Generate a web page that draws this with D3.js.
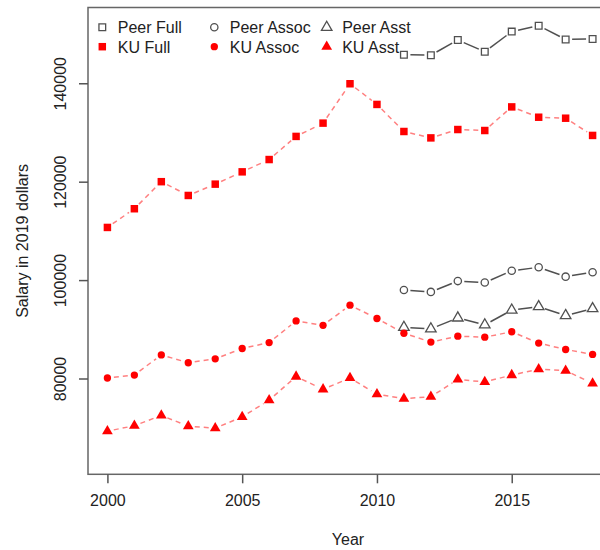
<!DOCTYPE html>
<html>
<head>
<meta charset="utf-8">
<script src="https://cdn.jsdelivr.net/npm/d3@7"></script>
<style>
  body { margin: 0; background: white; }
  svg { display: block; font-family: "Liberation Sans", Arial, sans-serif; }
</style>
</head>
<body>
<svg id="canvas"></svg>
<script>
const years = [2000, 2001, 2002, 2003, 2004, 2005, 2006, 2007, 2008, 2009,
    2010, 2011, 2012, 2013, 2014, 2015, 2016, 2017, 2018];
const peerYears = [2011, 2012, 2013, 2014, 2015, 2016, 2017, 2018];

const kuFull = [110700, 114500, 120000, 117200, 119500, 122000, 124500, 129200, 131900, 139900,
    135700, 130200, 128900, 130600, 130400, 135200, 133100, 132900, 129400];
const kuAssoc = [80100, 80700, 84800, 83200, 84000, 86100, 87300, 91700, 90800, 94900,
    92200, 89200, 87400, 88600, 88400, 89500, 87200, 85900, 84900];
const kuAsst = [69300, 70400, 72500, 70300, 69900, 72200, 75600, 80400, 77800, 80100,
    76800, 75900, 76300, 79800, 79300, 80700, 81900, 81600, 79000];
const peerFull = [145800, 145700, 148800, 146400, 150500, 151700, 148900, 149000];
const peerAssoc = [98000, 97600, 99800, 99500, 101900, 102600, 100700, 101600];
const peerAsst = [90400, 90100, 92300, 90900, 93900, 94600, 92800, 94200];

const xTicks = [2000, 2005, 2010, 2015];
const yTicks = [80000, 100000, 120000, 140000];
const legendLabels = ["Peer Full", "Peer Assoc", "Peer Asst", "KU Full", "KU Assoc", "KU Asst"];

const width = 600;
const height = 550;
const box = { left: 88, right: 612, top: 7.5, bottom: 474.3 };
const red = "#ff0000";
const pink = "#ff8080";
const grey = "#505050";

const svg = d3.select("#canvas")
    .attr("width", width)
    .attr("height", height);

const xScale = d3.scaleLinear()
    .domain([1999.28, 2018.72])
    .range([box.left, box.right]);

const yScale = d3.scaleLinear()
    .domain([60530, 155400])
    .range([box.bottom, box.top]);

// plot box
svg.append("rect")
    .attr("x", box.left)
    .attr("y", box.top)
    .attr("width", box.right - box.left)
    .attr("height", box.bottom - box.top)
    .attr("fill", "none")
    .attr("stroke", "#666")
    .attr("stroke-width", 1.5);

const xAxis = d3.axisBottom(xScale).tickValues(xTicks).tickFormat(d3.format("d")).tickSize(9);
const yAxis = d3.axisLeft(yScale).tickValues(yTicks).tickFormat(d3.format("d")).tickSize(9);

const gx = svg.append("g")
    .attr("transform", "translate(0," + box.bottom + ")")
    .call(xAxis);
gx.select(".domain").remove();
gx.selectAll("line").attr("stroke", "#555").attr("stroke-width", 1.5);
gx.selectAll("text")
    .attr("fill", "#222")
    .style("font-size", "16px")
    .attr("dy", "0.71em")
    .attr("y", 20);

const gy = svg.append("g")
    .attr("transform", "translate(" + box.left + ",0)")
    .call(yAxis);
gy.select(".domain").remove();
gy.selectAll("line").attr("stroke", "#555").attr("stroke-width", 1.5);
// tick groups are already moved to their y, so only shift left and turn
gy.selectAll("text")
    .attr("fill", "#222")
    .style("font-size", "16px")
    .attr("x", 0)
    .attr("dy", null)
    .attr("text-anchor", "middle")
    .attr("transform", "translate(" + (66 - box.left) + ",0) rotate(-90)");

svg.append("text")
    .attr("x", (box.left + 598) / 2 + 5)
    .attr("y", 545)
    .attr("text-anchor", "middle")
    .style("font-size", "16px")
    .attr("fill", "#222")
    .text("Year");

svg.append("text")
    .attr("transform", "translate(28," + (box.top + box.bottom) / 2 + ") rotate(-90)")
    .attr("text-anchor", "middle")
    .style("font-size", "16px")
    .attr("fill", "#222")
    .text("Salary in 2019 dollars");

const series = [
    { xs: peerYears, ys: peerFull, shape: d3.symbolSquare, size: 45, filled: false, color: grey, line: grey, dash: null },
    { xs: peerYears, ys: peerAssoc, shape: d3.symbolCircle, size: 42, filled: false, color: grey, line: grey, dash: null },
    { xs: peerYears, ys: peerAsst, shape: d3.symbolTriangle, size: 48, filled: false, color: grey, line: grey, dash: null },
    { xs: years, ys: kuFull, shape: d3.symbolSquare, size: 56, filled: true, color: red, line: pink, dash: "5,4" },
    { xs: years, ys: kuAssoc, shape: d3.symbolCircle, size: 42, filled: true, color: red, line: pink, dash: "5,4" },
    { xs: years, ys: kuAsst, shape: d3.symbolTriangle, size: 50, filled: true, color: red, line: pink, dash: "5,4" }
];

const gap = 6.5;
const plot = svg.append("g");

series.forEach(s => {
    const pts = s.xs.map((x, i) => [xScale(x), yScale(s.ys[i])]);
    const segs = d3.pairs(pts).map(([a, b]) => {
        const dx = b[0] - a[0], dy = b[1] - a[1];
        const len = Math.sqrt(dx * dx + dy * dy);
        const ux = dx / len, uy = dy / len;
        return [a[0] + ux * gap, a[1] + uy * gap, b[0] - ux * gap, b[1] - uy * gap];
    });

    plot.append("g")
        .selectAll("line")
        .data(segs)
        .enter()
        .append("line")
        .attr("x1", d => d[0])
        .attr("y1", d => d[1])
        .attr("x2", d => d[2])
        .attr("y2", d => d[3])
        .attr("stroke", s.line)
        .attr("stroke-width", 1.5)
        .attr("stroke-dasharray", s.dash);

    plot.append("g")
        .selectAll("path")
        .data(pts)
        .enter()
        .append("path")
        .attr("d", d3.symbol().type(s.shape).size(s.size))
        .attr("transform", d => "translate(" + d[0] + "," + d[1] + ")")
        .attr("fill", s.filled ? s.color : "none")
        .attr("stroke", s.color)
        .attr("stroke-width", s.filled ? 0 : 1.3);
});

// legend, three columns by two rows
const legendX = [102.3, 214.3, 326.7];
const legendY = [27.3, 46.7];
const legend = svg.append("g");

legendLabels.forEach((label, i) => {
    const s = series[i];
    const col = i % 3, row = Math.floor(i / 3);
    legend.append("path")
        .attr("d", d3.symbol().type(s.shape).size(s.size))
        .attr("transform", "translate(" + legendX[col] + "," + legendY[row] + ")")
        .attr("fill", s.filled ? s.color : "none")
        .attr("stroke", s.color)
        .attr("stroke-width", s.filled ? 0 : 1.3);
    legend.append("text")
        .attr("x", legendX[col] + 15.5)
        .attr("y", legendY[row] + 6)
        .style("font-size", "16px")
        .attr("fill", "#222")
        .text(label);
});
</script>
</body>
</html>
